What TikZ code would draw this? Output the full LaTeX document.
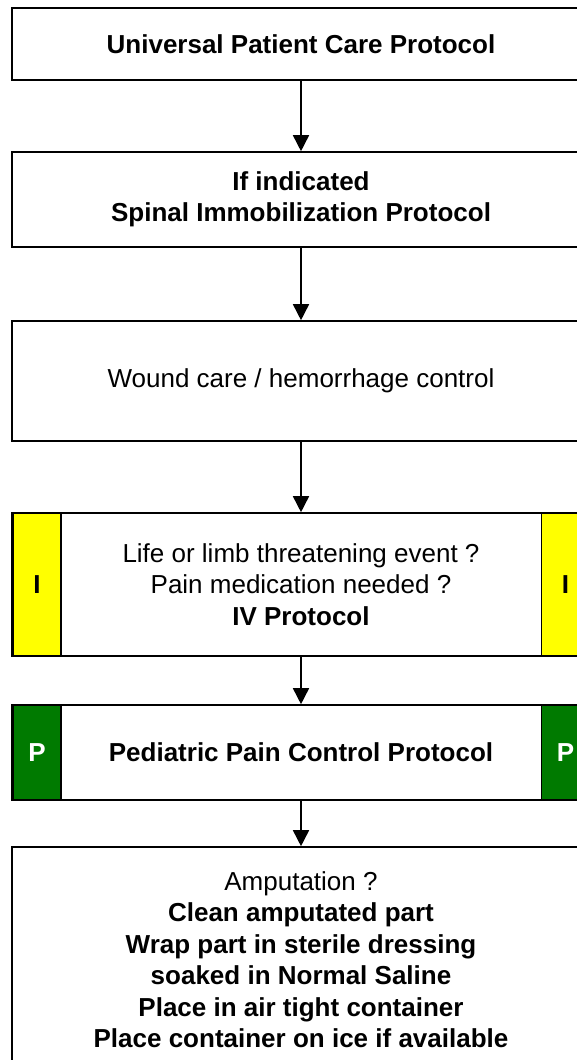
\documentclass[tikz,border=0pt]{standalone}
\usepackage{fontspec}
\setmainfont{Liberation Sans}
\usetikzlibrary{arrows.meta}
\definecolor{ivyellow}{RGB}{255,255,0}
\definecolor{pedgreen}{RGB}{0,122,0}
\begin{document}
\begin{tikzpicture}[x=1pt,y=1pt]
\tikzstyle{every node}+=[inner sep=0pt]
\tikzstyle{box}=[draw=black, line width=1.6pt, fill=white, minimum width=578pt, align=center, font=\fontsize{26}{31.5}\selectfont]
\tikzstyle{tag}=[draw=black, line width=1.6pt, minimum width=48pt, font=\fontsize{26}{31.5}\selectfont\bfseries]
\tikzstyle{link}=[black, line width=1.6pt, -{Triangle[length=16pt,width=16pt]}]
\useasboundingbox (0,0) rectangle (577,-1060);
\clip (0,0) rectangle (577,-1060);
\node [box, minimum height=72pt] (ucp) at (301,-44) {\bfseries Universal Patient Care Protocol};
\node [box, minimum height=95pt] (spine) at (301,-199.5) {\bfseries If indicated\\ \bfseries Spinal Immobilization Protocol};
\node [box, minimum height=120pt] (wound) at (301,-381) {Wound care / hemorrhage control};
\node [box, minimum height=143pt] (iv) at (301,-584.5) {Life or limb threatening event ?\\ Pain medication needed ?\\ \bfseries IV Protocol};
\node [tag, fill=ivyellow, minimum height=143pt] (ivl) at (37,-584.5) {I};
\node [tag, fill=ivyellow, minimum height=143pt] (ivr) at (565.5,-584.5) {I};
\node [box, minimum height=95pt] (peds) at (301,-752.5) {\bfseries Pediatric Pain Control Protocol};
\node [tag, fill=pedgreen, text=white, minimum height=95pt] (pedl) at (37,-752.5) {P};
\node [tag, fill=pedgreen, text=white, minimum height=95pt] (pedr) at (565.5,-752.5) {P};
\node [box, minimum height=225pt] (amp) at (301,-959.5) {Amputation ?\\ \bfseries Clean amputated part\\ \bfseries Wrap part in sterile dressing\\ \bfseries soaked in Normal Saline\\ \bfseries Place in air tight container\\ \bfseries Place container on ice if available};
\draw [link] (ucp) -- (spine);
\draw [link] (spine) -- (wound);
\draw [link] (wound) -- (iv);
\draw [link] (iv) -- (peds);
\draw [link] (peds) -- (amp);
\end{tikzpicture}
\end{document}
